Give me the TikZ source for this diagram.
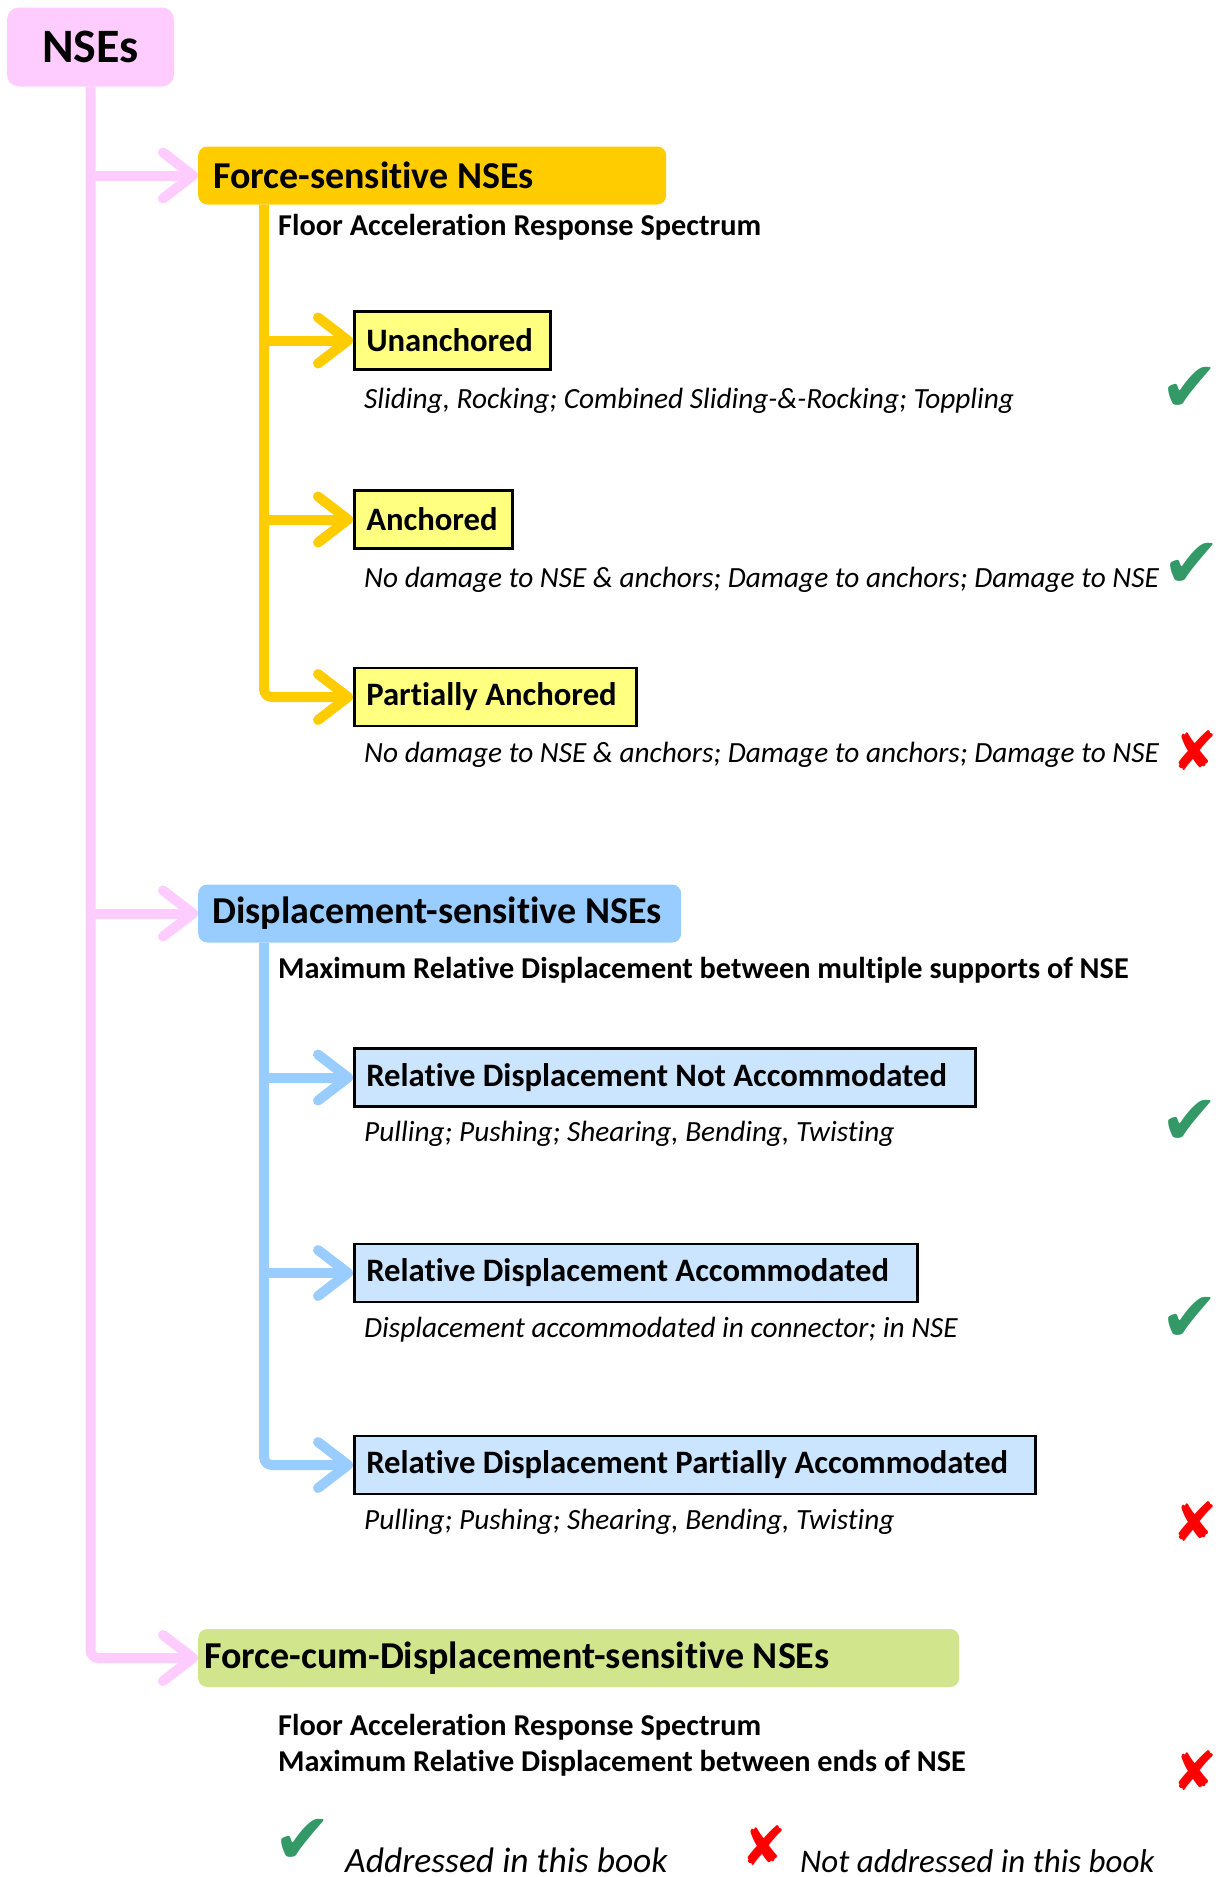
\documentclass[tikz,border=0pt]{standalone}
\usepackage{fontspec}
\setmainfont[Ligatures=NoCommon]{Carlito}
\newfontfamily\symfont{DejaVu Sans}
\usetikzlibrary{arrows.meta}
\definecolor{nsepink}{HTML}{FFCCFF}
\definecolor{fgold}{HTML}{FFCC00}
\definecolor{fyellow}{HTML}{FFFF80}
\definecolor{dblue}{HTML}{99CCFF}
\definecolor{dpale}{HTML}{CCE5FF}
\definecolor{fdgreen}{HTML}{D1E68C}
\definecolor{okgreen}{HTML}{339966}
\definecolor{nored}{HTML}{FF0000}
\begin{document}
\begin{tikzpicture}[x=1pt, y=-1pt,
    root/.style={fill=nsepink, rounded corners=12pt, minimum width=167pt, minimum height=79pt, font=\bfseries\fontsize{48}{56}\selectfont},
    cat/.style={anchor=west, rounded corners=9pt, minimum height=58pt, inner xsep=15pt, align=flush left, font=\bfseries\fontsize{38}{44}\selectfont},
    sub/.style={anchor=west, draw=black, line width=2.5pt, minimum height=58pt, inner xsep=12pt, align=flush left, font=\bfseries\fontsize{32.7}{38}\selectfont},
    basis/.style={anchor=base west, inner sep=0pt, font=\bfseries\fontsize{30.3}{34}\selectfont},
    mode/.style={anchor=base west, inner sep=0pt, font=\itshape\fontsize{29.3}{36}\selectfont},
    legend/.style={anchor=base west, inner sep=0pt, font=\itshape\fontsize{35.5}{42}\selectfont},
    yes/.style={text=okgreen, inner sep=0pt, font=\symfont\fontsize{70}{70}\selectfont},
    no/.style={text=nored, inner sep=0pt, font=\symfont\fontsize{54}{54}\selectfont},
    stem/.style={line width=10pt, rounded corners=8pt},
    arr/.style={stem, -{Straight Barb[length=30pt, width=46pt, round]}}]
  \useasboundingbox (0,0) rectangle (1218,1877);
  \node[root] (nse) at (90.5,47) {NSEs};
  \node[cat, fill=fgold, text width=438pt] (force) at (198,175.5) {Force-sensitive NSEs};
  \node[basis] (facc) at (278,235) {Floor Acceleration Response Spectrum};
  \node[sub, fill=fyellow, text width=172pt] (unanch) at (353,340.5) {Unanchored};
  \node[mode] (unmode) at (364,408) {Sliding, Rocking; Combined Sliding-\&-Rocking; Toppling};
  \node[yes] (unok) at (1190,389) {✔};
  \node[sub, fill=fyellow, text width=134pt] (anch) at (353,519.5) {Anchored};
  \node[mode] (anmode) at (364,587) {No damage to NSE \& anchors; Damage to anchors; Damage to NSE};
  \node[yes] (anok) at (1192,565) {✔};
  \node[sub, fill=fyellow, text width=258pt] (partial) at (353,697) {Partially Anchored};
  \node[mode] (pamode) at (364,762) {No damage to NSE \& anchors; Damage to anchors; Damage to NSE};
  \node[no] (pano) at (1195,751) {✘};
  \node[cat, fill=dblue, inner xsep=14pt, text width=455pt] (disp) at (198,913.5) {Displacement-sensitive NSEs};
  \node[basis] (dmax) at (278,978) {Maximum Relative Displacement between multiple supports of NSE};
  \node[sub, fill=dpale, text width=597pt] (rdna) at (353,1077.5) {Relative Displacement Not Accommodated};
  \node[mode] (namode) at (364,1141) {Pulling; Pushing; Shearing, Bending, Twisting};
  \node[yes] (naok) at (1190,1122) {✔};
  \node[sub, fill=dpale, text width=539pt] (rda) at (353,1273) {Relative Displacement Accommodated};
  \node[mode] (amode) at (364,1337) {Displacement accommodated in connector; in NSE};
  \node[yes] (aok) at (1190,1319) {✔};
  \node[sub, fill=dpale, text width=657pt] (rdpa) at (353,1465) {Relative Displacement Partially Accommodated};
  \node[mode] (pmode) at (364,1529) {Pulling; Pushing; Shearing, Bending, Twisting};
  \node[no] (pno) at (1195,1522) {✘};
  \node[cat, fill=fdgreen, inner xsep=6pt, text width=749pt] (fcd) at (198,1658) {Force-cum-Displacement-sensitive NSEs};
  \node[basis] (cacc) at (278,1735) {Floor Acceleration Response Spectrum};
  \node[basis] (cmax) at (278,1771) {Maximum Relative Displacement between ends of NSE};
  \node[no] (cno) at (1195,1771) {✘};
  \node[yes] (keyok) at (303,1841) {✔};
  \node[legend] (keyoktxt) at (345,1872) {Addressed in this book};
  \node[no] (keyno) at (764,1846) {✘};
  \node[legend, font=\itshape\fontsize{33}{40}\selectfont] (keynotxt) at (800,1872) {Not addressed in this book};
  \coordinate (fstem) at ([xshift=66pt]force.south west);
  \coordinate (dstem) at ([xshift=66pt]disp.south west);
  \draw[arr, draw=nsepink] (nse.south) |- (fcd.west);
  \draw[arr, draw=nsepink] (nse.south |- force.west) -- (force.west);
  \draw[arr, draw=nsepink] (nse.south |- disp.west) -- (disp.west);
  \draw[arr, draw=fgold] (fstem) |- (partial.west);
  \draw[arr, draw=fgold] (fstem |- unanch.west) -- (unanch.west);
  \draw[arr, draw=fgold] (fstem |- anch.west) -- (anch.west);
  \draw[arr, draw=dblue] (dstem) |- (rdpa.west);
  \draw[arr, draw=dblue] (dstem |- rdna.west) -- (rdna.west);
  \draw[arr, draw=dblue] (dstem |- rda.west) -- (rda.west);
\end{tikzpicture}
\end{document}
